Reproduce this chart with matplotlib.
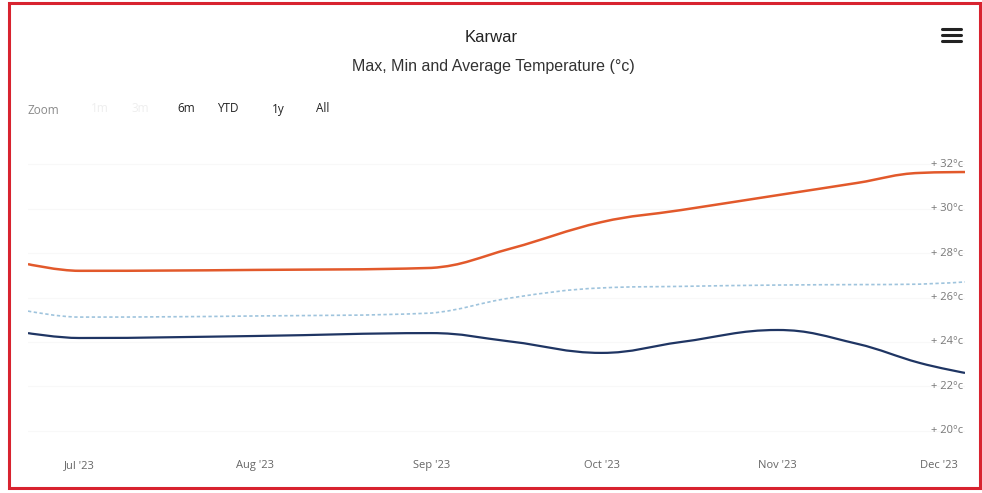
import datetime as dt
import matplotlib
matplotlib.use("Agg")
import matplotlib.pyplot as plt
import matplotlib.dates as mdates
from matplotlib.path import Path
from matplotlib.patches import PathPatch, Rectangle
from matplotlib.lines import Line2D
import matplotlib.transforms as mtransforms

# readings taken off the chart
dates = ["2023-06-22", "2023-07-01", "2023-08-01", "2023-09-01", "2023-09-15",
         "2023-10-01", "2023-10-15", "2023-11-01", "2023-11-15", "2023-11-26", "2023-12-04"]
max_temp = [27.5, 27.2, 27.24, 27.33, 28.2, 29.39, 29.93, 30.6, 31.15, 31.6, 31.64]
avg_temp = [25.39, 25.12, 25.17, 25.3, 25.98, 26.43, 26.5, 26.56, 26.58, 26.6, 26.7]
min_temp = [24.4, 24.18, 24.27, 24.4, 24.02, 23.51, 24.0, 24.54, 23.92, 23.06, 22.61]

month_ticks = ["2023-07-01", "2023-08-01", "2023-09-01", "2023-10-01", "2023-11-01", "2023-12-01"]
month_labels = ["Jul '23", "Aug '23", "Sep '23", "Oct '23", "Nov '23", "Dec '23"]
y_ticks = [20, 22, 24, 26, 28, 30, 32]
buttons = ["1m", "3m", "6m", "YTD", "1y", "All"]


def spline_path(xs, ys, smoothing=1.5, denom=2.5):
    # highcharts style spline control points
    n = len(xs)
    left = [None] * n
    right = [None] * n
    for i in range(1, n - 1):
        lx = (smoothing * xs[i] + xs[i - 1]) / denom
        ly = (smoothing * ys[i] + ys[i - 1]) / denom
        rx = (smoothing * xs[i] + xs[i + 1]) / denom
        ry = (smoothing * ys[i] + ys[i + 1]) / denom
        if rx != lx:
            corr = (ry - ly) * (rx - xs[i]) / (rx - lx) + ys[i] - ry
            ly += corr
            ry += corr
        if ly > max(ys[i - 1], ys[i]):
            ly = max(ys[i - 1], ys[i]); ry = 2 * ys[i] - ly
        elif ly < min(ys[i - 1], ys[i]):
            ly = min(ys[i - 1], ys[i]); ry = 2 * ys[i] - ly
        if ry > max(ys[i + 1], ys[i]):
            ry = max(ys[i + 1], ys[i]); ly = 2 * ys[i] - ry
        elif ry < min(ys[i + 1], ys[i]):
            ry = min(ys[i + 1], ys[i]); ly = 2 * ys[i] - ry
        left[i] = (lx, ly)
        right[i] = (rx, ry)
    verts = [(xs[0], ys[0])]
    codes = [Path.MOVETO]
    for i in range(1, n):
        c1 = right[i - 1] if right[i - 1] else (xs[i - 1], ys[i - 1])
        c2 = left[i] if left[i] else (xs[i], ys[i])
        verts += [c1, c2, (xs[i], ys[i])]
        codes += [Path.CURVE4] * 3
    return Path(verts, codes)


x = [mdates.date2num(dt.datetime.strptime(d, "%Y-%m-%d")) for d in dates]
xt = [mdates.date2num(dt.datetime.strptime(d, "%Y-%m-%d")) for d in month_ticks]

W, H = 982, 493
fig = plt.figure(figsize=(W / 100, H / 100), dpi=100)
plt.rcParams['font.family'] = ['Liberation Sans', 'DejaVu Sans']

# plot area in pixels
left_px, right_px, top_px, bottom_px = 28, 965, 140, 445
ax = fig.add_axes([left_px / W, 1 - bottom_px / H, (right_px - left_px) / W, (bottom_px - top_px) / H])
ax.set_xlim(x[0], x[-1])
ax.set_ylim(19.37, 33.08)
for s in ax.spines.values():
    s.set_visible(False)
ax.set_yticks(y_ticks)
ax.set_yticklabels([])
ax.tick_params(axis='y', length=0)
ax.grid(axis='y', color='#f8f8f8', linewidth=0.8)
ax.set_axisbelow(True)

for yv in y_ticks:
    ax.text(0.9985, yv, "+ %d°c" % yv, transform=ax.get_yaxis_transform(),
            ha='right', va='center', fontsize=8, color='#777777', family=['Open Sans', 'DejaVu Sans'])

ax.set_xticks(xt)
ax.set_xticklabels(month_labels, fontsize=8, color='#666666', family=['Open Sans', 'DejaVu Sans'])
ax.tick_params(axis='x', length=0, pad=11)
last = ax.get_xticklabels()[-1]
last.set_transform(last.get_transform() + mtransforms.ScaledTranslation(-0.09, 0, fig.dpi_scale_trans))

ax.add_patch(PathPatch(spline_path(x, avg_temp), fill=False, edgecolor='#9fc4dd',
                       linewidth=1.2, linestyle=(0, (2, 1.5))))
ax.add_patch(PathPatch(spline_path(x, min_temp), fill=False, edgecolor='#1f3563', linewidth=1.6))
ax.add_patch(PathPatch(spline_path(x, max_temp), fill=False, edgecolor='#e2592b', linewidth=1.8))

# titles
fig.text(491 / W, 1 - 38 / H, "Karwar", ha='center', va='center', fontsize=12, color='#222222')
fig.text(493 / W, 1 - 67 / H, "Max, Min and Average Temperature (°c)", ha='center', va='center',
         fontsize=11.5, color='#333333')

# range selector
fig.text(28 / W, 1 - 110 / H, "Zoom", ha='left', va='center', fontsize=8.5, color='#8a8a8a',
         family=['Open Sans', 'DejaVu Sans'])
btn_x = [100, 140, 186, 228, 278, 323]
btn_col = ['#eeeeee', '#eeeeee', '#222222', '#222222', '#222222', '#222222']
for bx, lab, c in zip(btn_x, buttons, btn_col):
    fig.text(bx / W, 1 - 109 / H, lab, ha='center', va='center', fontsize=8.5, color=c,
             family=['Open Sans', 'DejaVu Sans'])

# menu icon
for yy in [29, 35, 41]:
    fig.add_artist(Line2D([942 / W, 961 / W], [1 - yy / H, 1 - yy / H], color='#222222',
                          linewidth=2.2, solid_capstyle='round'))

# red frame
fig.add_artist(Rectangle((9 / W, 1 - 488 / H), 971 / W, 485 / H, fill=False,
                         edgecolor='#d8232f', linewidth=2.2, transform=fig.transFigure))

fig.savefig("out.png", dpi=100)
